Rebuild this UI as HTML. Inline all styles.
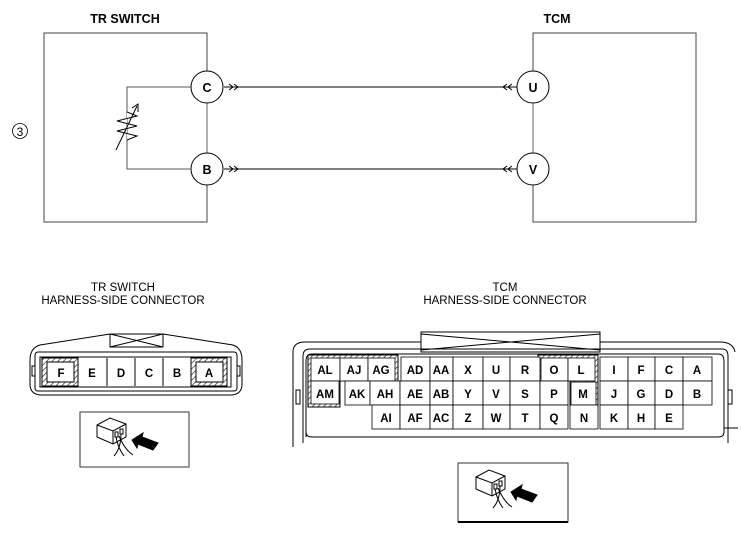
<!DOCTYPE html>
<html><head><meta charset="utf-8"><style>
html,body{margin:0;padding:0;background:#fff;}
svg{display:block;font-family:"Liberation Sans",Arial,sans-serif;}
</style></head><body>
<svg width="741" height="535" viewBox="0 0 741 535" xmlns="http://www.w3.org/2000/svg">
<defs>
<pattern id="h" width="4" height="4" patternUnits="userSpaceOnUse" patternTransform="rotate(45)">
<rect width="4" height="4" fill="#fff"/><line x1="0" y1="0" x2="0" y2="4" stroke="#333" stroke-width="1.4"/>
</pattern>
</defs>
<g fill="none" stroke="#000" stroke-width="1">
<path d="M207 71 V33 H44 V222 H207 V185" stroke="#444"/>
<line x1="207" y1="103" x2="207" y2="153" stroke="#666"/>
<circle cx="207" cy="87" r="16" fill="#fff"/>
<circle cx="207" cy="169" r="16" fill="#fff"/>
<path d="M191 87 H127 V169 H191" stroke="#555"/>
<path d="M127 112 L137 116 L117 121 L137 126 L117 131 L137 136 L127 140" fill="#fff"/>
<line x1="116" y1="150" x2="137" y2="106"/>
<path d="M132 108 L138 104 L138 112" />
<path d="M533 71 V33 H696 V222 H533 V185" stroke="#444"/>
<line x1="533" y1="103" x2="533" y2="153" stroke="#666"/>
<circle cx="533" cy="87" r="16" fill="#fff"/>
<circle cx="533" cy="169" r="16" fill="#fff"/>
<line x1="224" y1="87" x2="517" y2="87"/>
<line x1="224" y1="169" x2="517" y2="169"/>
<path d="M229 84 L233 87 L229 90 M234 84 L238 87 L234 90"/>
<path d="M229 166 L233 169 L229 172 M234 166 L238 169 L234 172"/>
<path d="M512 84 L508 87 L512 90 M507 84 L503 87 L507 90"/>
<path d="M512 166 L508 169 L512 172 M507 166 L503 169 L507 172"/>
<circle cx="20" cy="131" r="7.5" stroke-width="0.8"/>
</g>
<g font-size="12.5" font-weight="bold" text-anchor="middle">
<text x="125" y="23">TR SWITCH</text>
<text x="557" y="23">TCM</text>
<text x="207" y="92">C</text>
<text x="207" y="174">B</text>
<text x="533" y="92">U</text>
<text x="533" y="174">V</text>
</g>
<text x="20" y="136" font-size="12" text-anchor="middle">3</text>

<g font-size="11.5" text-anchor="middle">
<text x="123" y="291">TR SWITCH</text>
<text x="123" y="304">HARNESS-SIDE CONNECTOR</text>
<text x="505" y="291">TCM</text>
<text x="505" y="304">HARNESS-SIDE CONNECTOR</text>
</g>

<g fill="none" stroke="#000" stroke-width="1">
<path d="M40 345 L110 334 H163 L233 345 Q242 348 242 360 V384 Q242 395 230 395 H42 Q30 395 30 384 V360 Q30 348 40 345 Z"/>
<rect x="110" y="334" width="53" height="13"/>
<path d="M110 334 L163 347 M163 334 L110 347"/>
<path d="M38 352 H234 Q237 352 237 356 V388 Q237 391 234 391 H38 Q35 391 35 388 V356 Q35 352 38 352 Z"/>
<rect x="40" y="357" width="191" height="30"/>
<rect x="32" y="366" width="3" height="10"/>
<rect x="237" y="366" width="3" height="10"/>
<rect x="42" y="358" width="36" height="28" fill="url(#h)"/>
<rect x="47" y="362" width="27" height="20" fill="#fff"/>
<rect x="191" y="358" width="36" height="28" fill="url(#h)"/>
<rect x="196" y="362" width="27" height="20" fill="#fff"/>
<path d="M107 358 V386 M135 358 V386 M163 358 V386"/>
<rect x="80" y="412" width="109" height="55" stroke="#333"/>
</g>
<g font-size="11.5" font-weight="bold" text-anchor="middle">
<text x="61" y="377">F</text><text x="92" y="377">E</text><text x="121" y="377">D</text><text x="149" y="377">C</text><text x="177" y="377">B</text><text x="209" y="377">A</text>
</g>

<g fill="none" stroke="#000" stroke-width="1">
<path d="M293 447 V352 Q293 342 305 342 H421 M600 342 H720 Q733 342 735 352"/>
<rect x="421" y="332" width="179" height="20" fill="#fff"/>
<path d="M421 334 L600 350 M600 334 L421 350"/>
<path d="M303 443 V356 Q303 349 310 349 H722 Q728 349 728 356 V443"/>
<path d="M306 437 V361 Q306 354 312 354 H718 Q724 354 724 361 V432 Q724 437 718 437 H312 Q306 437 306 432"/>
<rect x="296" y="390" width="4" height="14"/>
<rect x="728" y="390" width="4" height="14"/>
<line x1="724" y1="428" x2="738" y2="428"/>
<path d="M308 355 H398 V381 H340 V407 H308 Z" fill="url(#h)"/>
<path d="M538 355 H598 V407 H570 V381 H538 Z" fill="url(#h)"/>
</g>
<g stroke="#000" stroke-width="0.8" fill="#fff">
<rect x="311" y="358" width="29" height="23"/><rect x="340" y="358" width="28" height="23"/><rect x="368" y="358" width="27" height="23"/>
<rect x="401" y="357" width="29" height="24"/><rect x="430" y="357" width="23" height="24"/><rect x="453" y="357" width="30" height="24"/><rect x="483" y="357" width="27" height="24"/><rect x="510" y="357" width="30" height="24"/>
<rect x="541" y="358" width="27" height="23"/><rect x="568" y="358" width="27" height="23"/>
<rect x="600" y="357" width="28" height="24"/><rect x="628" y="357" width="27" height="24"/><rect x="655" y="357" width="28" height="24"/><rect x="683" y="357" width="29" height="24"/>
<rect x="311" y="381" width="28" height="23"/>
<rect x="345" y="381" width="25" height="24"/><rect x="370" y="381" width="30" height="24"/><rect x="400" y="381" width="30" height="24"/><rect x="430" y="381" width="23" height="24"/><rect x="453" y="381" width="30" height="24"/><rect x="483" y="381" width="27" height="24"/><rect x="510" y="381" width="30" height="24"/><rect x="540" y="381" width="28" height="24"/>
<rect x="571" y="382" width="25" height="23"/>
<rect x="600" y="381" width="28" height="24"/><rect x="628" y="381" width="27" height="24"/><rect x="655" y="381" width="28" height="24"/><rect x="683" y="381" width="29" height="24"/>
<rect x="372" y="405" width="28" height="24"/><rect x="400" y="405" width="30" height="24"/><rect x="430" y="405" width="23" height="24"/><rect x="453" y="405" width="30" height="24"/><rect x="483" y="405" width="27" height="24"/><rect x="510" y="405" width="30" height="24"/><rect x="540" y="405" width="28" height="24"/>
<rect x="570" y="405" width="28" height="24"/>
<rect x="600" y="405" width="28" height="24"/><rect x="628" y="405" width="27" height="24"/><rect x="655" y="405" width="28" height="24"/>
</g>
<g font-size="11.5" font-weight="bold" text-anchor="middle">
<text x="325" y="374">AL</text><text x="354" y="374">AJ</text><text x="381" y="374">AG</text><text x="415" y="374">AD</text><text x="441" y="374">AA</text><text x="468" y="374">X</text><text x="496" y="374">U</text><text x="525" y="374">R</text><text x="554" y="374">O</text><text x="581" y="374">L</text><text x="614" y="374">I</text><text x="641" y="374">F</text><text x="669" y="374">C</text><text x="697" y="374">A</text>
<text x="325" y="398">AM</text><text x="357" y="398">AK</text><text x="385" y="398">AH</text><text x="415" y="398">AE</text><text x="441" y="398">AB</text><text x="468" y="398">Y</text><text x="496" y="398">V</text><text x="525" y="398">S</text><text x="554" y="398">P</text><text x="583" y="398">M</text><text x="614" y="398">J</text><text x="641" y="398">G</text><text x="669" y="398">D</text><text x="697" y="398">B</text>
<text x="386" y="422">AI</text><text x="415" y="422">AF</text><text x="441" y="422">AC</text><text x="468" y="422">Z</text><text x="496" y="422">W</text><text x="525" y="422">T</text><text x="554" y="422">Q</text><text x="584" y="422">N</text><text x="614" y="422">K</text><text x="641" y="422">H</text><text x="669" y="422">E</text>
</g>

<g fill="none" stroke="#000" stroke-width="1">
<rect x="458" y="463" width="110" height="59" stroke="#333"/>
<line x1="458" y1="522" x2="568" y2="522" stroke-width="2"/>
</g>
<g id="pic" fill="none" stroke="#000" stroke-width="1">
<path d="M97 425 L110 418 L126 424 L126 437 L113 444 L97 437 Z M97 425 L113 431 L126 424 M113 431 V444" fill="#fff"/>
<rect x="115" y="432" width="3" height="5"/><rect x="120" y="429" width="3" height="5"/>
<path d="M116 437 Q118 448 124 456 M121 434 Q121 448 114 456 M119 436 Q125 450 133 455"/>
<path d="M132 440 L143 433 L142 437 L158 443 L153 450 L138 444 L137 448 Z" fill="#000"/>
</g>
<use href="#pic" transform="translate(379 52)"/>
</svg>
</body></html>
